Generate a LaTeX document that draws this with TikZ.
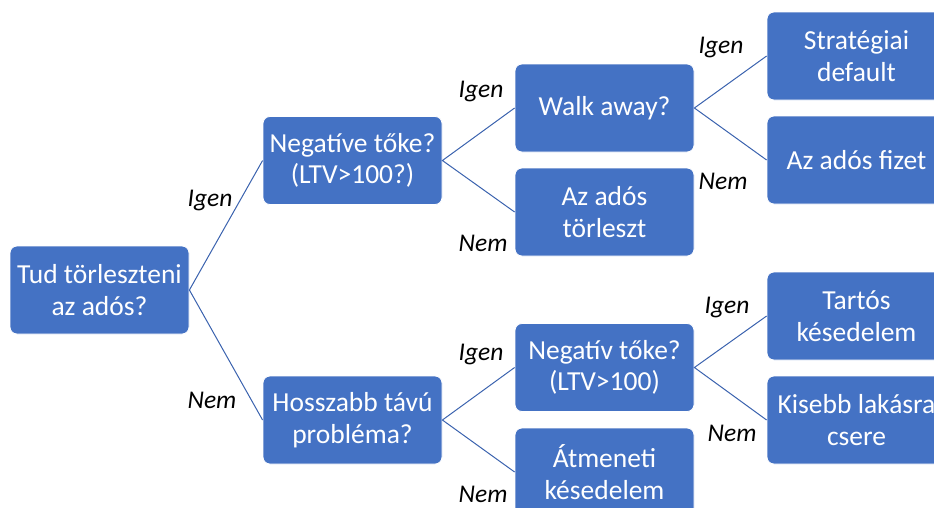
\documentclass[tikz,border=0pt]{standalone}
\usepackage{fontspec}
\setmainfont{Carlito}
\definecolor{boxblue}{HTML}{4472C4}
\definecolor{linkblue}{HTML}{3A62AE}
\begin{document}
\begin{tikzpicture}[x=1pt,y=-1pt,
  box/.style={rectangle, rounded corners=7pt, fill=boxblue, draw=white, line width=0.8pt,
    minimum width=179pt, minimum height=88pt, inner sep=0pt, text=white, align=center,
    font=\fontsize{27.5pt}{31.5pt}\selectfont},
  lbl/.style={font=\fontsize{25.5pt}{28pt}\selectfont\itshape, text=black, inner sep=0pt},
  link/.style={draw=linkblue, line width=1pt}]
\useasboundingbox (0,0) rectangle (934,507);
\clip (0,0) rectangle (934,507);
\node[box] (b1) at (99.5,290) {Tud törleszteni\\az adós?};
\node[box] (b2) at (352.5,160.5) {Negatíve tőke?\\(LTV>100?)};
\node[box] (b3) at (604.5,108) {Walk away?};
\node[box] (b4) at (604.5,212) {Az adós\\törleszt};
\node[box] (b5) at (856.5,56) {Stratégiai\\default};
\node[box] (b6) at (856.5,160) {Az adós fizet};
\node[box] (b7) at (352.5,420) {Hosszabb távú\\probléma?};
\node[box] (b8) at (604.5,367.5) {Negatív tőke?\\(LTV>100)};
\node[box] (b9) at (604.5,472) {Átmeneti\\késedelem};
\node[box] (b10) at (856.5,316) {Tartós\\késedelem};
\node[box] (b11) at (856.5,420) {Kisebb lakásra\\csere};
\draw[link] (b2.west) -- (b1.east) -- (b7.west);
\draw[link] (b3.west) -- (b2.east) -- (b4.west);
\draw[link] (b5.west) -- (b3.east) -- (b6.west);
\draw[link] (b8.west) -- (b7.east) -- (b9.west);
\draw[link] (b10.west) -- (b8.east) -- (b11.west);
\node[lbl] (l1) at (210,200) {Igen};
\node[lbl] (l2) at (212,400) {Nem};
\node[lbl] (l3) at (481,91) {Igen};
\node[lbl] (l4) at (483,243) {Nem};
\node[lbl] (l5) at (721,47) {Igen};
\node[lbl] (l6) at (723,181) {Nem};
\node[lbl] (l7) at (481,354) {Igen};
\node[lbl] (l8) at (483,494) {Nem};
\node[lbl] (l9) at (727,307) {Igen};
\node[lbl] (l10) at (732,433) {Nem};
\end{tikzpicture}
\end{document}
